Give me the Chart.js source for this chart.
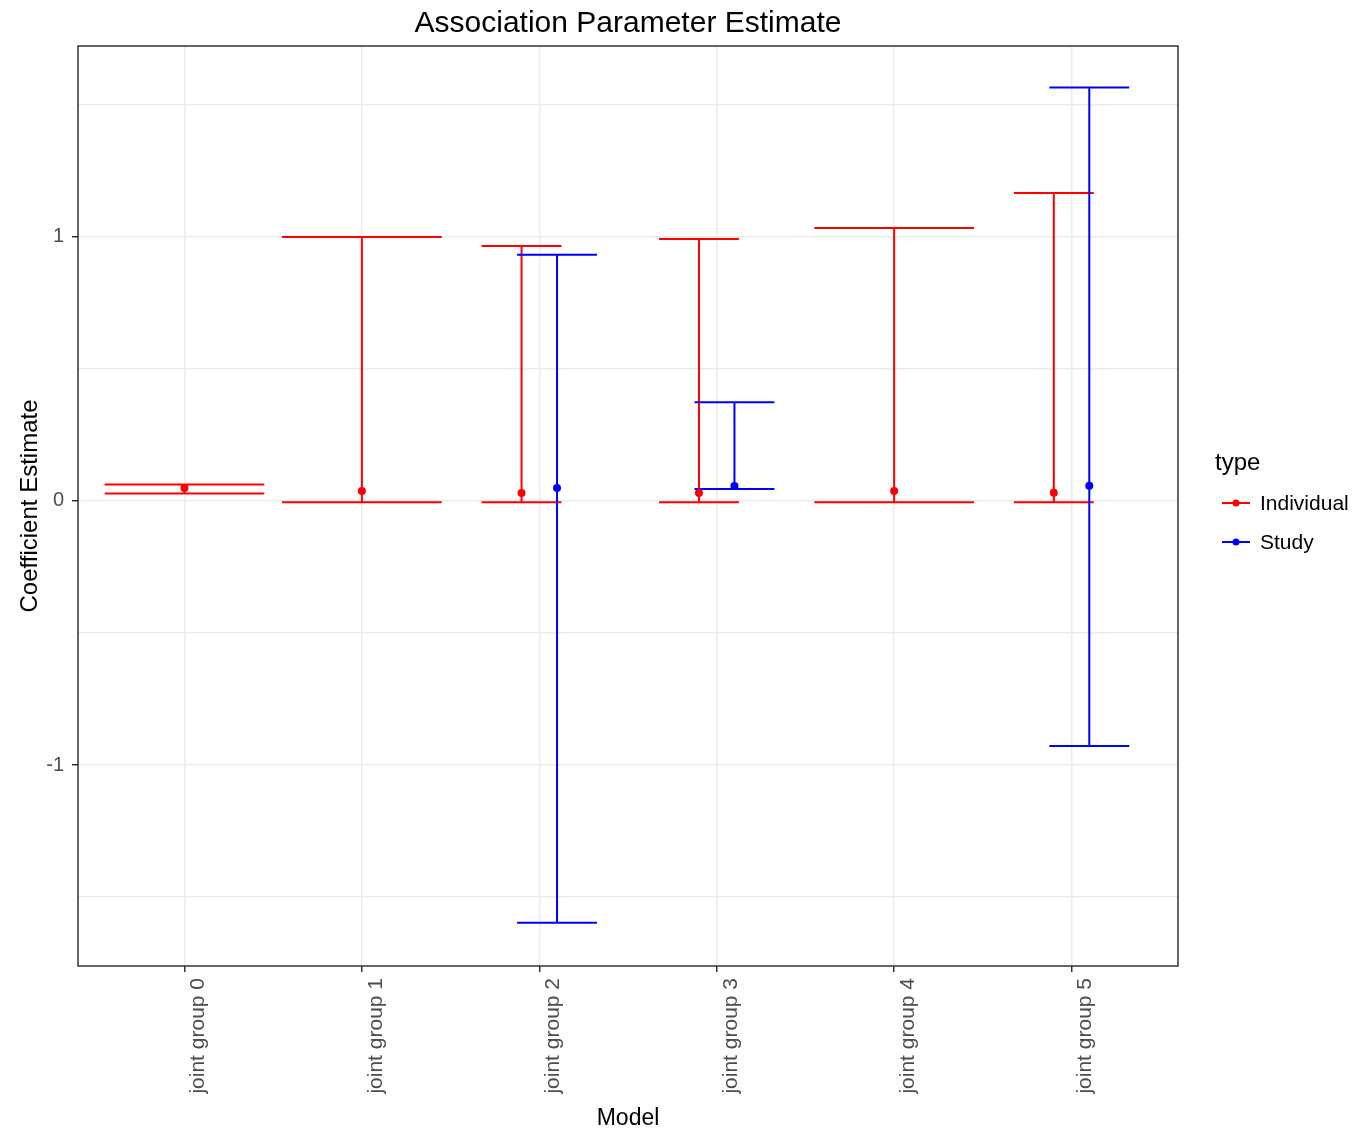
<!DOCTYPE html>
<html>
<head>
<meta charset="utf-8">
<script src="https://cdn.jsdelivr.net/npm/chart.js@4.4.1/dist/chart.umd.min.js"></script>
<style>
  html, body { margin: 0; padding: 0; background: #fff; }
</style>
</head>
<body>
<canvas id="chart" width="1360" height="1134"></canvas>
<script>
const categories = ["joint group 0", "joint group 1", "joint group 2", "joint group 3", "joint group 4", "joint group 5"];

// Individual
const indEst   = [0.049, 0.038, 0.030, 0.030, 0.038, 0.031];
const indLower = [0.028, -0.005, -0.005, -0.005, -0.005, -0.005];
const indUpper = [0.062, 1.000, 0.966, 0.992, 1.034, 1.166];

// Study
const studyEst   = [null, null, 0.049, 0.057, null, 0.058];
const studyLower = [null, null, -1.597, 0.045, null, -0.928];
const studyUpper = [null, null, 0.932, 0.374, null, 1.566];

const yMajor = [-1, 0, 1];
const yMinor = [-1.5, -0.5, 0.5, 1.5];

const RED = "#ff0000";
const BLUE = "#0000ff";
const dodge = 0.1;

function place(i, which) {
  const both = indEst[i] != null && studyEst[i] != null;
  if (!both) return { x: i, half: 0.45 };
  return { x: which === "ind" ? i - dodge : i + dodge, half: 0.225 };
}

function barData(est, lo, hi, which) {
  const pts = [];
  est.forEach((v, i) => {
    if (v == null) return;
    const { x, half } = place(i, which);
    pts.push({ x: x - half, y: hi[i] }, { x: x + half, y: hi[i] }, { x: x, y: null });
    pts.push({ x: x, y: hi[i] }, { x: x, y: lo[i] }, { x: x, y: null });
    pts.push({ x: x - half, y: lo[i] }, { x: x + half, y: lo[i] }, { x: x, y: null });
  });
  return pts;
}

function pointData(est, which) {
  const pts = [];
  est.forEach((v, i) => {
    if (v == null) return;
    pts.push({ x: place(i, which).x, y: v });
  });
  return pts;
}

const panelBorder = {
  id: "panelBorder",
  afterDraw(chart) {
    const { ctx, chartArea: a } = chart;
    ctx.save();
    ctx.strokeStyle = "#333333";
    ctx.lineWidth = 1.5;
    ctx.strokeRect(a.left, a.top, a.right - a.left, a.bottom - a.top);
    ctx.restore();
  }
};

const typeLegend = {
  id: "typeLegend",
  afterDraw(chart) {
    const ctx = chart.ctx;
    ctx.save();
    ctx.fillStyle = "#000";
    ctx.textBaseline = "middle";
    ctx.textAlign = "left";
    ctx.font = "24px 'Liberation Sans', Arial, sans-serif";
    ctx.fillText("type", 1215, 463);
    const items = [["Individual", RED, 503], ["Study", BLUE, 542]];
    items.forEach(([label, col, y]) => {
      ctx.strokeStyle = col;
      ctx.lineWidth = 2;
      ctx.beginPath();
      ctx.moveTo(1222, y);
      ctx.lineTo(1250, y);
      ctx.stroke();
      ctx.fillStyle = col;
      ctx.beginPath();
      ctx.arc(1236, y, 3.5, 0, Math.PI * 2);
      ctx.fill();
      ctx.fillStyle = "#000";
      ctx.font = "21px 'Liberation Sans', Arial, sans-serif";
      ctx.fillText(label, 1260, y + 1);
    });
    ctx.restore();
  }
};

const isMajor = (v) => yMajor.some((m) => Math.abs(m - v) < 1e-9);

new Chart(document.getElementById("chart"), {
  type: "scatter",
  data: {
    datasets: [
      {
        label: "Study",
        data: pointData(studyEst, "study"),
        backgroundColor: BLUE,
        borderColor: BLUE,
        pointRadius: 4,
        pointBorderWidth: 0
      },
      {
        label: "Individual",
        data: pointData(indEst, "ind"),
        backgroundColor: RED,
        borderColor: RED,
        pointRadius: 4,
        pointBorderWidth: 0
      },
      {
        type: "line",
        label: "Study bars",
        data: barData(studyEst, studyLower, studyUpper, "study"),
        borderColor: BLUE,
        borderWidth: 2,
        pointRadius: 0,
        spanGaps: false,
        fill: false
      },
      {
        type: "line",
        label: "Individual bars",
        data: barData(indEst, indLower, indUpper, "ind"),
        borderColor: RED,
        borderWidth: 2,
        pointRadius: 0,
        spanGaps: false,
        fill: false
      }
    ]
  },
  options: {
    responsive: false,
    animation: false,
    layout: { padding: { left: 0, right: 182, top: 0, bottom: 0 } },
    plugins: {
      legend: { display: false },
      tooltip: { enabled: false },
      title: {
        display: true,
        text: "Association Parameter Estimate",
        fullSize: false,
        color: "#000",
        font: { family: "'Liberation Sans', Arial, sans-serif", size: 30, weight: "normal" },
        padding: { top: 6, bottom: 4 }
      }
    },
    scales: {
      x: {
        type: "linear",
        min: -0.6,
        max: 5.6,
        afterBuildTicks: (scale) => { scale.ticks = categories.map((c, i) => ({ value: i })); },
        afterFit: (scale) => { scale.height = 168; },
        border: { display: false },
        grid: { color: "#ebebeb", lineWidth: 1.5, tickColor: "#333333", tickLength: 6, tickWidth: 1.5 },
        ticks: {
          autoSkip: false,
          maxRotation: 90,
          minRotation: 90,
          padding: 6,
          labelOffset: 14,
          color: "#4d4d4d",
          font: { family: "'Liberation Sans', Arial, sans-serif", size: 21 },
          callback: (v) => categories[v]
        },
        title: {
          display: true,
          text: "Model",
          color: "#000",
          font: { family: "'Liberation Sans', Arial, sans-serif", size: 23 },
          padding: { top: 0, bottom: 2 }
        }
      },
      y: {
        min: -1.761,
        max: 1.723,
        afterBuildTicks: (scale) => {
          scale.ticks = yMinor.concat(yMajor).sort((a, b) => a - b).map((v) => ({ value: v }));
        },
        afterFit: (scale) => { scale.width = 78; },
        border: { display: false },
        grid: {
          color: "#ebebeb",
          lineWidth: 1.5,
          tickLength: 6,
          tickWidth: 1.5,
          tickColor: (c) => (isMajor(c.tick.value) ? "#333333" : "rgba(0,0,0,0)")
        },
        ticks: {
          padding: 8,
          color: "#4d4d4d",
          font: { family: "'Liberation Sans', Arial, sans-serif", size: 20 },
          callback: (v) => (isMajor(v) ? String(v) : "")
        },
        title: {
          display: true,
          text: "Coefficient Estimate",
          color: "#000",
          font: { family: "'Liberation Sans', Arial, sans-serif", size: 24 },
          padding: { top: 16, bottom: 0 }
        }
      }
    }
  },
  plugins: [panelBorder, typeLegend]
});
</script>
</body>
</html>
